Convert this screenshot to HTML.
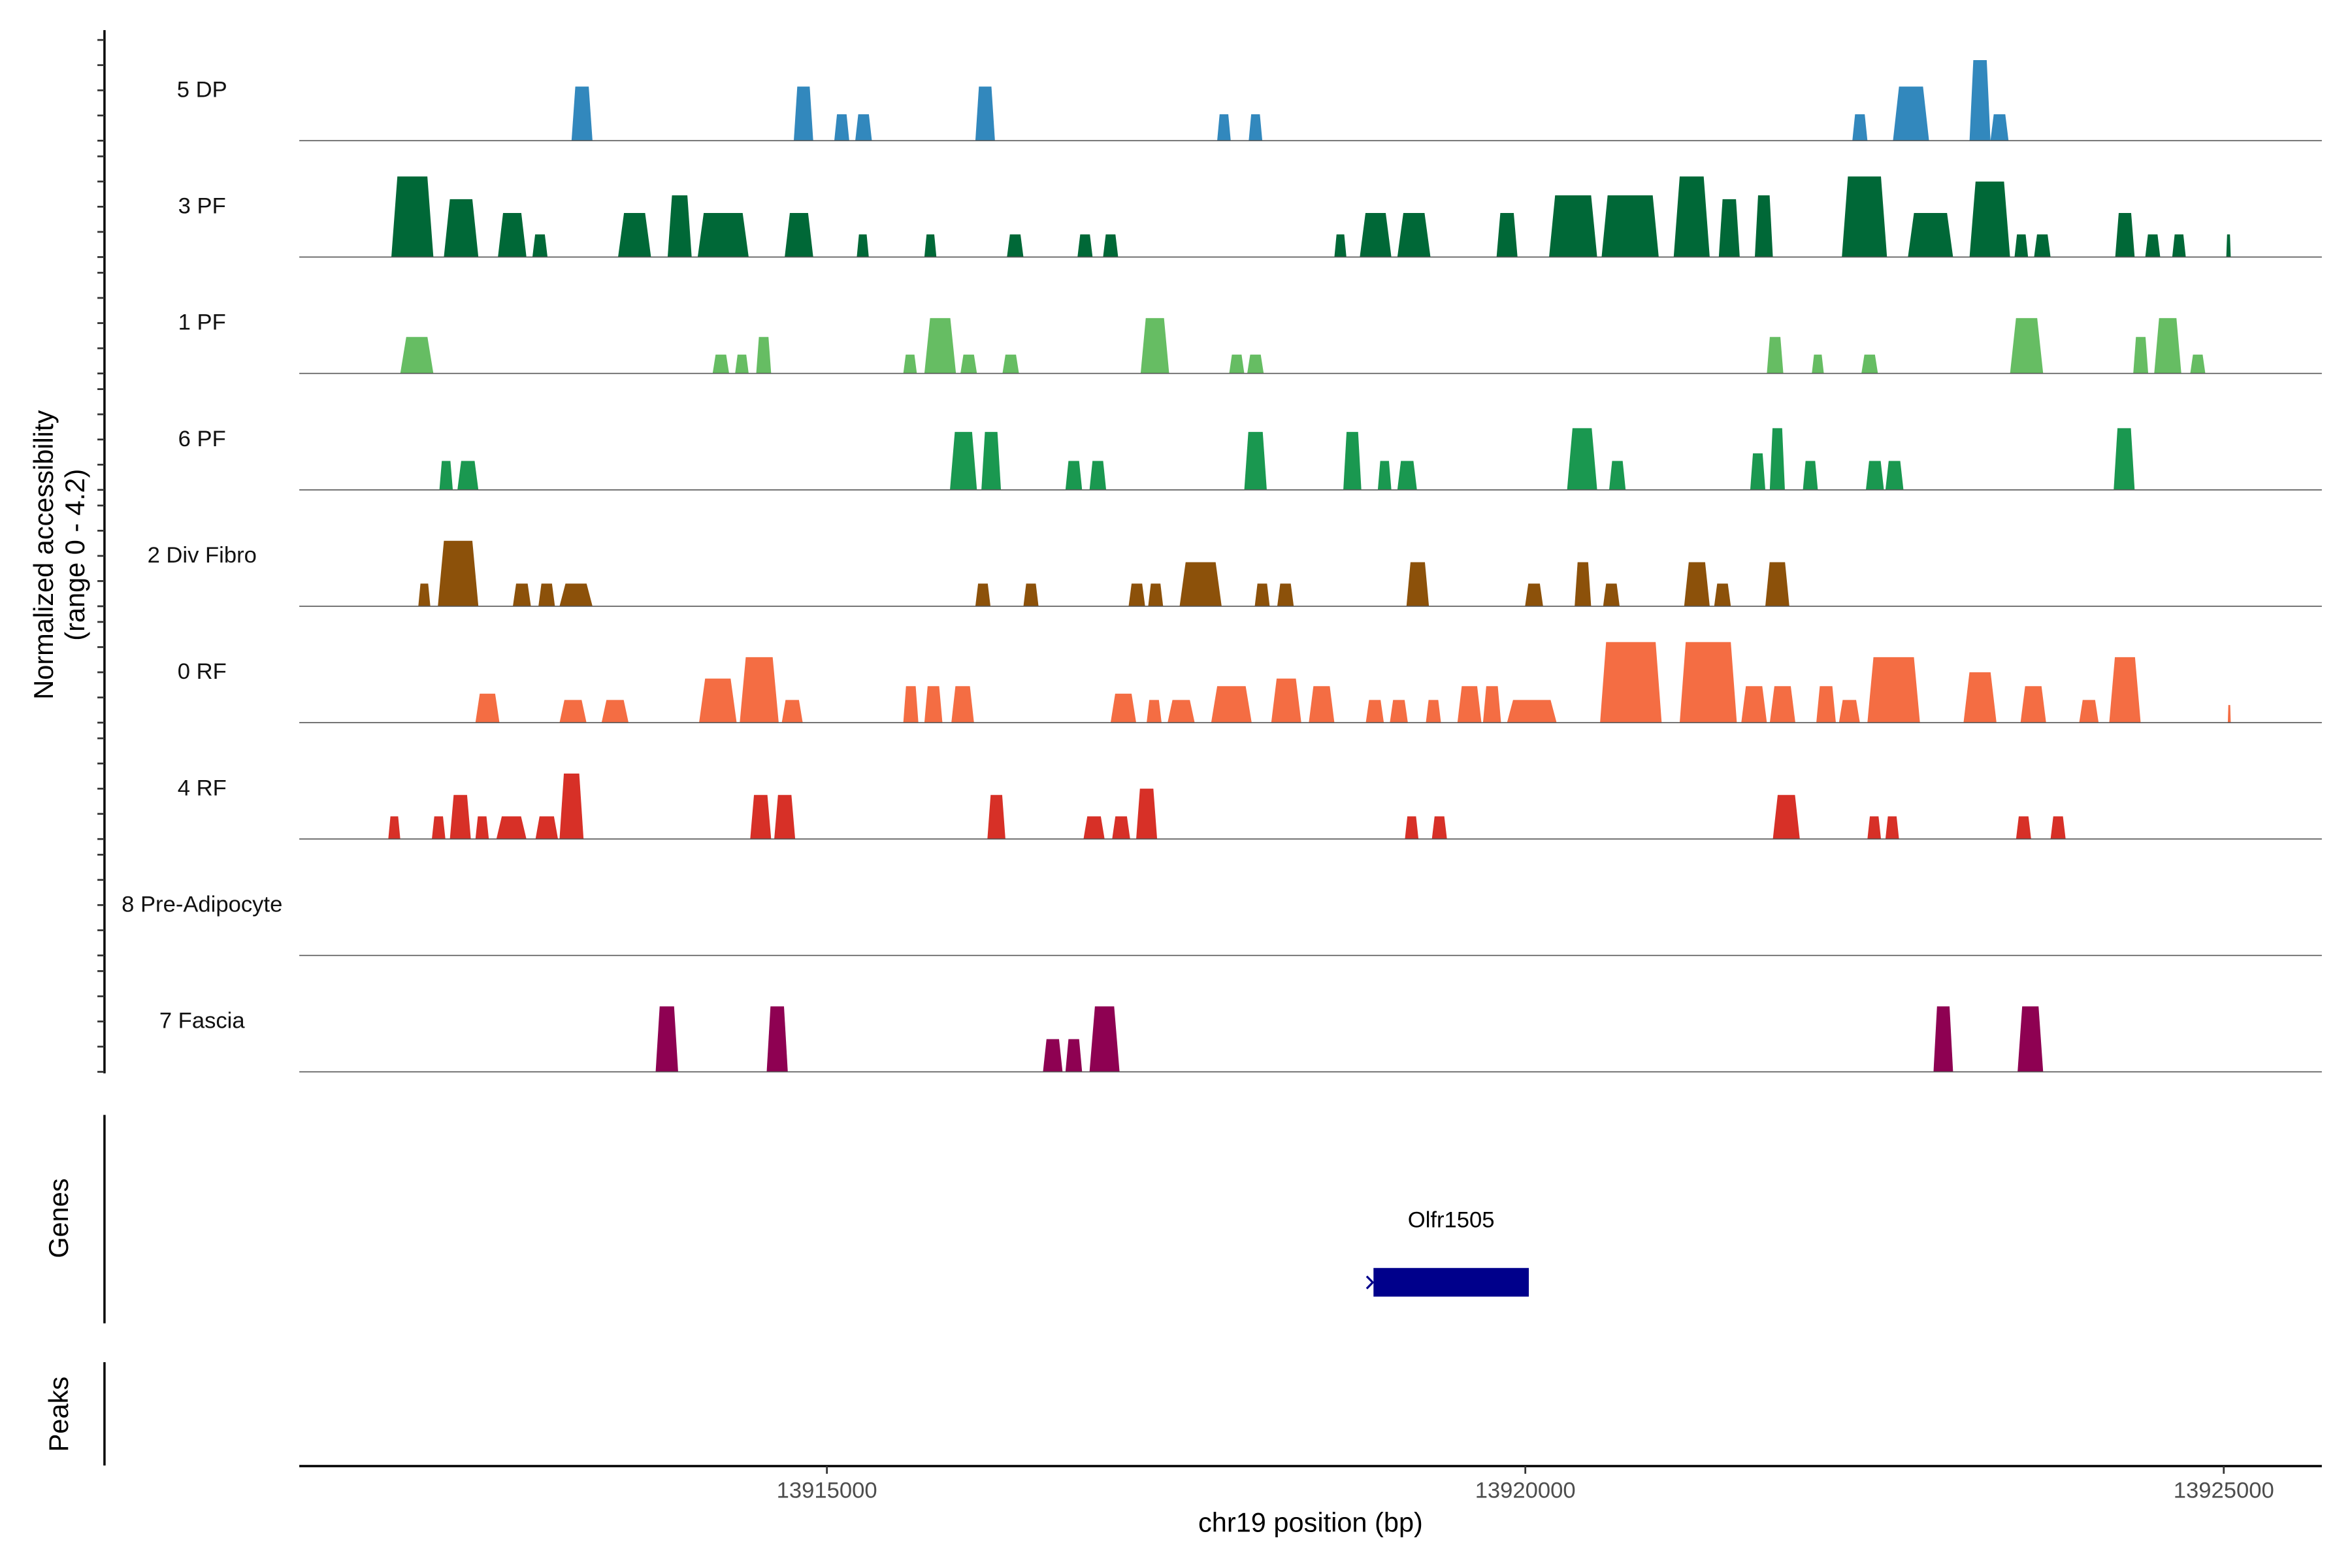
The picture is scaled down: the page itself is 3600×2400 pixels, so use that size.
<!DOCTYPE html>
<html><head><meta charset="utf-8"><style>
html,body{margin:0;padding:0;background:#fff}
svg{display:block}
text{font-family:"Liberation Sans",Arial,sans-serif}
</style></head><body>
<svg id="chart" width="3600" height="2400" viewBox="0 0 1560 1040" xmlns="http://www.w3.org/2000/svg">
<rect x="0" y="0" width="1560" height="1040" fill="#fff"/>
<g id="tracks"></g>
<g id="axes"></g>
</svg>
<script>
// ---- data ----
const trackNames = ["5 DP","3 PF","1 PF","6 PF","2 Div Fibro","0 RF","4 RF","8 Pre-Adipocyte","7 Fascia"];
const trackColors = ["#3288BD","#006837","#66BD63","#1A9850","#8C510A","#F46D43","#D73027","#FDAE61","#8E0152"];
const xTicks = [13915000,13920000,13925000];
const xTickLabels = ["13915000","13920000","13925000"];
const yMaxValue = 4.2;
// peaks: [start bp, end bp, value]
const peaks5DP = [[13913172,13913322,2.15],[13914763,13914902,2.15],[13915053,13915160,1.05],[13915203,13915322,1.05],[13916063,13916203,2.15],[13917794,13917891,1.05],[13918020,13918117,1.05],[13922341,13922449,1.05],[13922632,13922890,2.15],[13923180,13923330,3.2],[13923330,13923459,1.05]];
const peaks3PF = [[13911882,13912183,3.2],[13912258,13912505,2.3],[13912645,13912849,1.75],[13912892,13913000,0.9],[13913505,13913741,1.75],[13913860,13914032,2.45],[13914075,13914440,1.75],[13914698,13914902,1.75],[13915214,13915300,0.9],[13915698,13915784,0.9],[13916289,13916407,0.9],[13916794,13916902,0.9],[13916977,13917085,0.9],[13918633,13918719,0.9],[13918815,13919041,1.75],[13919084,13919321,1.75],[13919794,13919944,1.75],[13920170,13920514,2.45],[13920546,13920955,2.45],[13921062,13921320,3.2],[13921385,13921535,2.3],[13921643,13921772,2.45],[13922266,13922589,3.2],[13922739,13923062,1.75],[13923180,13923470,3.0],[13923502,13923599,0.9],[13923642,13923760,0.9],[13924223,13924362,1.75],[13924438,13924545,0.9],[13924631,13924728,0.9],[13925018,13925050,0.9]];
const peaks1PF = [[13911946,13912183,1.45],[13914182,13914300,0.75],[13914343,13914440,0.75],[13914494,13914601,1.45],[13915547,13915644,0.75],[13915698,13915924,2.2],[13915956,13916074,0.75],[13916257,13916375,0.75],[13917246,13917450,2.2],[13917880,13917988,0.75],[13918009,13918127,0.75],[13921729,13921847,1.45],[13922051,13922137,0.75],[13922406,13922524,0.75],[13923470,13923707,2.2],[13924352,13924459,1.45],[13924502,13924696,2.2],[13924760,13924868,0.75]];
const peaks6PF = [[13912226,13912322,1.15],[13912355,13912505,1.15],[13915881,13916074,2.3],[13916106,13916246,2.3],[13916708,13916827,1.15],[13916880,13916999,1.15],[13917988,13918149,2.3],[13918697,13918826,2.3],[13918944,13919041,1.15],[13919084,13919224,1.15],[13920299,13920514,2.45],[13920600,13920718,1.15],[13921610,13921718,1.45],[13921750,13921858,2.45],[13921987,13922094,1.15],[13922438,13922567,1.15],[13922578,13922707,1.15],[13924212,13924362,2.45]];
const peaks2DivFibro = [[13912075,13912161,0.9],[13912215,13912505,2.6],[13912752,13912881,0.9],[13912935,13913053,0.9],[13913086,13913322,0.9],[13916063,13916171,0.9],[13916407,13916515,0.9],[13917160,13917278,0.9],[13917300,13917407,0.9],[13917525,13917826,1.75],[13918063,13918170,0.9],[13918224,13918342,0.9],[13919149,13919310,1.75],[13919998,13920127,0.9],[13920353,13920471,1.75],[13920557,13920675,0.9],[13921137,13921320,1.75],[13921352,13921471,0.9],[13921718,13921890,1.75]];
const peaks0RF = [[13912484,13912656,1.15],[13913086,13913279,0.9],[13913387,13913580,0.9],[13914085,13914354,1.75],[13914376,13914655,2.6],[13914677,13914827,0.9],[13915547,13915655,1.45],[13915698,13915827,1.45],[13915891,13916053,1.45],[13917031,13917214,1.15],[13917289,13917396,0.9],[13917439,13917633,0.9],[13917751,13918041,1.45],[13918181,13918396,1.75],[13918450,13918633,1.45],[13918858,13918987,0.9],[13919030,13919159,0.9],[13919288,13919396,0.9],[13919514,13919686,1.45],[13919697,13919826,1.45],[13919869,13920224,0.9],[13920535,13920976,3.2],[13921105,13921514,3.2],[13921546,13921729,1.45],[13921750,13921933,1.45],[13922083,13922223,1.45],[13922245,13922395,0.9],[13922449,13922825,2.6],[13923137,13923373,2.0],[13923545,13923728,1.45],[13923965,13924104,0.9],[13924180,13924405,2.6],[13925029,13925050,0.7]];
const peaks4RF = [[13911860,13911946,0.9],[13912172,13912269,0.9],[13912301,13912451,1.75],[13912484,13912580,0.9],[13912634,13912849,0.9],[13912914,13913075,0.9],[13913086,13913258,2.6],[13914451,13914601,1.75],[13914623,13914773,1.75],[13916149,13916278,1.75],[13916837,13916988,0.9],[13917042,13917171,0.9],[13917214,13917364,2.0],[13919138,13919235,0.9],[13919331,13919439,0.9],[13921772,13921965,1.75],[13922449,13922546,0.9],[13922578,13922675,0.9],[13923513,13923621,0.9],[13923760,13923868,0.9]];
const peaks8PreAdipocyte = [];
const peaks7Fascia = [[13913774,13913935,2.6],[13914569,13914720,2.6],[13916547,13916687,1.3],[13916708,13916827,1.3],[13916880,13917095,2.6],[13922922,13923062,2.6],[13923524,13923707,2.6]];
const trackPeaks = [peaks5DP,peaks3PF,peaks1PF,peaks6PF,peaks2DivFibro,peaks0RF,peaks4RF,peaks8PreAdipocyte,peaks7Fascia];
const geneName = "Olfr1505";
const geneStart = 13918913;
const geneEnd = 13920025;

// ---- scales ----
const NS = "http://www.w3.org/2000/svg";
const plotLeft = 198.5, plotRight = 1540;
function xScale(bp){ return 1011.7 + (bp - 13920000) * 0.09265; }
const firstBase = 93.3, trackStep = 77.2, unitPx = 16.7;
function baseY(i){ return firstBase + i * trackStep; }
function yScale(i, v){ return baseY(i) - v * unitPx; }
function mk(tag, attrs, parent){
  const e = document.createElementNS(NS, tag);
  for (const k in attrs) e.setAttribute(k, attrs[k]);
  parent.appendChild(e); return e;
}
const tracksG = document.getElementById('tracks');
const axesG = document.getElementById('axes');

// ---- tracks ----
trackNames.forEach((name, i) => {
  const g = mk('g', {}, tracksG);
  
  
  trackPeaks[i].forEach((p, j) => {
    const x1 = xScale(p[0]), x2 = xScale(p[1]);
    const w = x2 - x1, r = Math.min(w * 0.18, 4);
    const yb = baseY(i), yt = yScale(i, p[2]);
    const poly = mk('polygon', {points: `${x1},${yb} ${x1+r},${yt} ${x2-r},${yt} ${x2},${yb}`, fill: trackColors[i]}, g);
    
    
  });
  const bl = mk('line', {x1: plotLeft, x2: plotRight, y1: baseY(i), y2: baseY(i), stroke: '#555', 'stroke-width': 0.7}, g);
  
  
  const t = mk('text', {x: 134, y: baseY(i) - 29, 'font-size': 15, 'text-anchor': 'middle', fill: '#111'}, g);
  t.textContent = name;
  
  
});

// ---- left y axis with ticks ----
const yAxis = mk('line', {x1: 69.3, x2: 69.3, y1: 20, y2: baseY(8) + 1, stroke: '#000', 'stroke-width': 1.5}, axesG);


for (let i = 0; i < trackNames.length; i++) {
  for (let v = 0; v <= 4; v++) {
    const tk = mk('line', {x1: 64.6, x2: 69.3, y1: yScale(i, v), y2: yScale(i, v), stroke: '#333', 'stroke-width': 1.2}, axesG);
    
    
  }
}
const yt1 = mk('text', {x: 0, y: 0, 'font-size': 18, 'text-anchor': 'middle', fill: '#000', transform: 'translate(35,368) rotate(-90)'}, axesG);
yt1.textContent = 'Normalized accessibility';


const yt2 = mk('text', {x: 0, y: 0, 'font-size': 18, 'text-anchor': 'middle', fill: '#000', transform: 'translate(56,368) rotate(-90)'}, axesG);
yt2.textContent = '(range 0 - 4.2)';



// ---- genes panel ----
const gAx = mk('line', {x1: 69.3, x2: 69.3, y1: 739.5, y2: 877.7, stroke: '#000', 'stroke-width': 1.5}, axesG);


const gT = mk('text', {x: 0, y: 0, 'font-size': 18, 'text-anchor': 'middle', fill: '#000', transform: 'translate(45,808) rotate(-90)'}, axesG);
gT.textContent = 'Genes';


const gx1 = xScale(geneStart), gx2 = xScale(geneEnd);
const geneRect = mk('rect', {x: gx1, y: 841, width: gx2 - gx1, height: 19, fill: '#00008B'}, axesG);


const chev = mk('polyline', {points: `${gx1-4.5},846.5 ${gx1-0.5},850.6 ${gx1-4.5},854.7`, fill: 'none', stroke: '#00008B', 'stroke-width': 1.4}, axesG);


const gl = mk('text', {x: (gx1 + gx2) / 2, y: 814, 'font-size': 15, 'text-anchor': 'middle', fill: '#000'}, axesG);
gl.textContent = geneName;



// ---- peaks panel ----
const pAx = mk('line', {x1: 69.3, x2: 69.3, y1: 903.5, y2: 972, stroke: '#000', 'stroke-width': 1.5}, axesG);


const pT = mk('text', {x: 0, y: 0, 'font-size': 18, 'text-anchor': 'middle', fill: '#000', transform: 'translate(45,938) rotate(-90)'}, axesG);
pT.textContent = 'Peaks';



// ---- x axis ----
const xAx = mk('line', {x1: plotLeft, x2: plotRight, y1: 972.4, y2: 972.4, stroke: '#000', 'stroke-width': 1.5}, axesG);


xTicks.forEach((v, k) => {
  const x = xScale(v);
  const tk = mk('line', {x1: x, x2: x, y1: 972.4, y2: 977.5, stroke: '#333', 'stroke-width': 1.2}, axesG);
  
  
  const tl = mk('text', {x: x, y: 993.5, 'font-size': 15, 'text-anchor': 'middle', fill: '#4D4D4D'}, axesG);
  tl.textContent = xTickLabels[k];
  
  
});
const xt = mk('text', {x: (plotLeft + plotRight) / 2, y: 1016, 'font-size': 18, 'text-anchor': 'middle', fill: '#000'}, axesG);
xt.textContent = 'chr19 position (bp)';


</script>
</body></html>
